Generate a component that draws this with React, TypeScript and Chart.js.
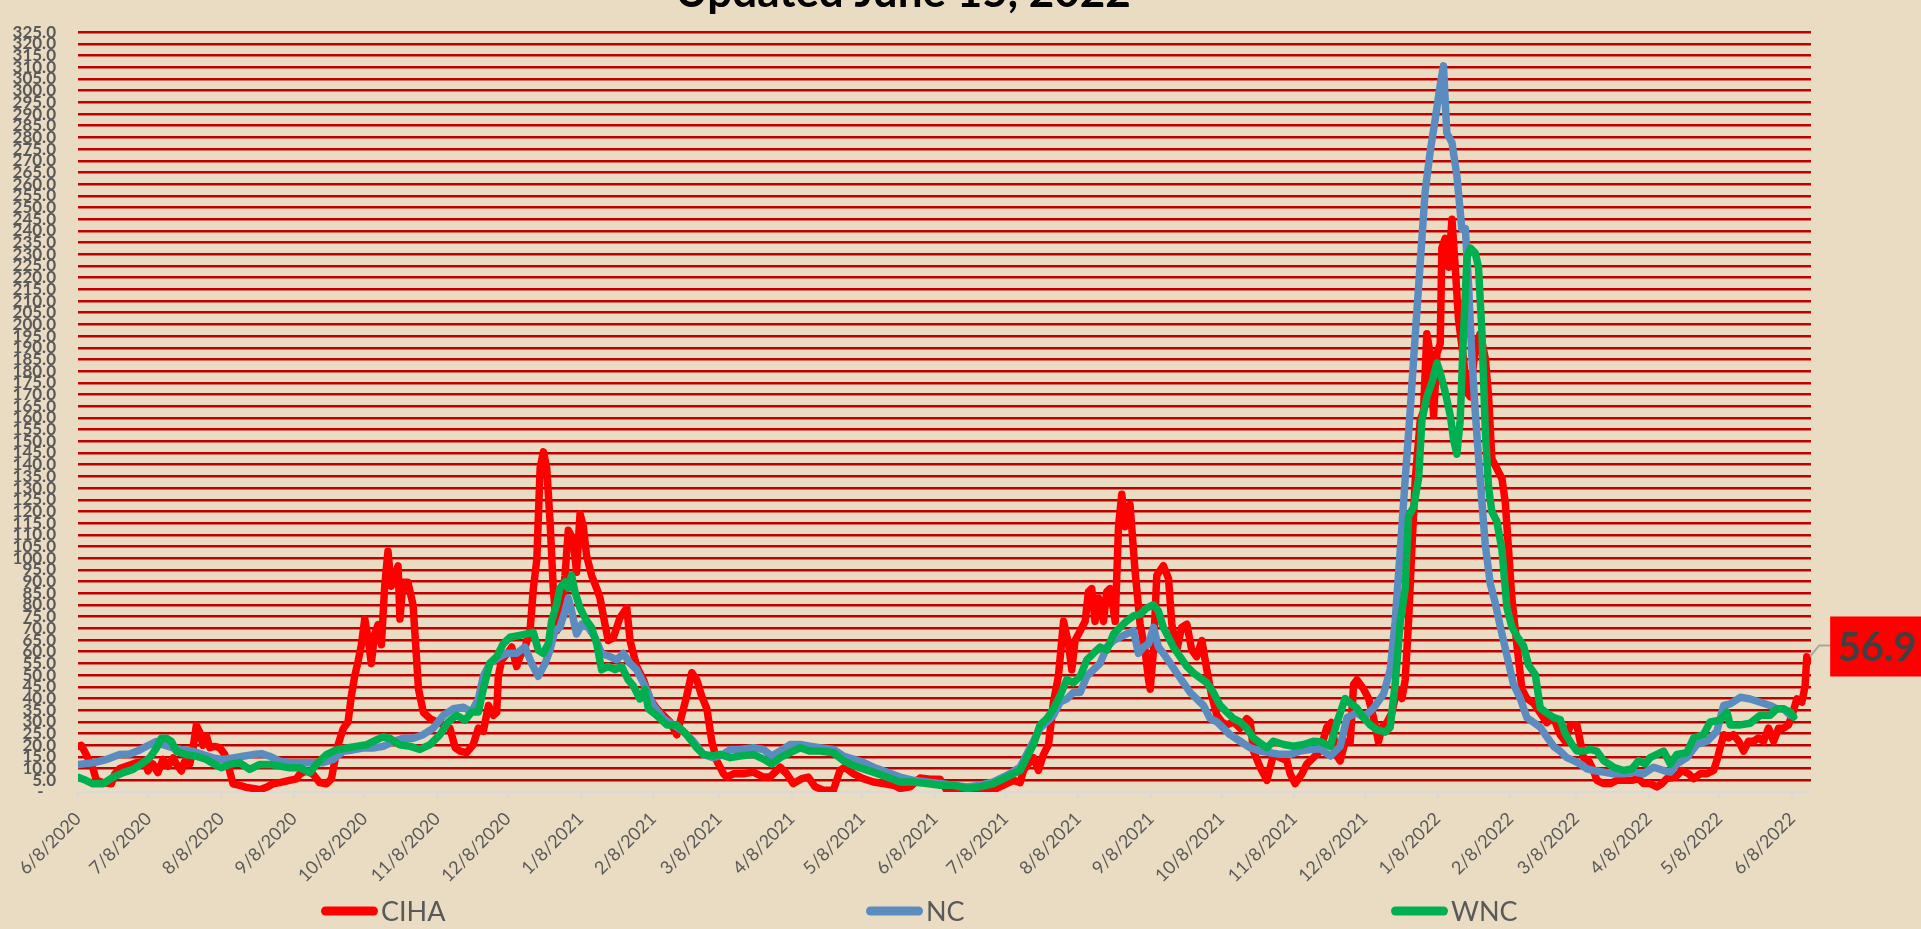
import React, { useEffect, useRef } from 'react';
import { Chart, registerables } from 'chart.js';

Chart.register(...registerables);

const titleText = 'Updated June 15, 2022';
const seriesNames = ['CIHA', 'NC', 'WNC'];
const startDate = '6/8/2020';
const xTickLabels = [
  '6/8/2020', '7/8/2020', '8/8/2020', '9/8/2020', '10/8/2020', '11/8/2020', '12/8/2020',
  '1/8/2021', '2/8/2021', '3/8/2021', '4/8/2021', '5/8/2021', '6/8/2021', '7/8/2021',
  '8/8/2021', '9/8/2021', '10/8/2021', '11/8/2021', '12/8/2021', '1/8/2022', '2/8/2022',
  '3/8/2022', '4/8/2022', '5/8/2022', '6/8/2022',
];
const xMaxDay = 738;
const yMax = 325;
const yStep = 5;

// days after 6/8/2020
const ciahDays = [
  0, 1.4, 3.5, 6.4, 7.8, 10.6, 14.2, 15.6, 17.7, 20.6, 24.8, 28.4, 29.8, 31.9, 34, 36.2, 38.3, 40.5, 41.9, 44,
  45.4, 47.6, 49, 50.4, 51.8, 53.2, 54.7, 56.1, 58.2, 60.3, 62.5, 64.6, 66, 68.9, 71.7, 75.2, 77.4, 80.2, 83, 85.9,
  90.1, 93, 94.4, 97.2, 100.1, 102.9, 105.8, 107.9, 109.3, 110.7, 112.9, 115, 116.4, 117.8, 119.3, 120.7, 122.1, 123.5, 124.9, 126.3,
  127.8, 129.2, 130.6, 132, 133.4, 134.9, 136.3, 137.1, 138.4, 140.5, 142.7, 143.5, 145, 147.1, 149.9, 152.8, 155.6, 158.4, 160.6, 162.7,
  165.5, 168.3, 170.5, 172.6, 174.8, 176.9, 178.3, 179, 180.4, 182.6, 184.7, 186.8, 188.2, 190.4, 192.5, 193.9, 195.4, 196.8, 198.2, 199.6,
  201, 202.4, 203.9, 205.3, 207.4, 208.8, 210.9, 212.3, 213.8, 215.2, 216.6, 218.7, 220.9, 222.3, 224.4, 225.8, 228, 230.8, 233.7, 235.1,
  237.9, 240.8, 243.6, 246.5, 249.3, 252.1, 255, 257.1, 259.2, 261.4, 263.5, 265.6, 267.8, 269.9, 272, 274.9, 276.2, 279.1, 283.3, 287.6,
  291.9, 294.7, 299, 301.8, 304.6, 308.2, 311, 313.9, 317.4, 321.7, 323.1, 324.5, 326.6, 330.2, 334.4, 338.7, 343, 347.2, 350.1, 354.3,
  358.6, 362.8, 367.1, 369.9, 372.8, 378.5, 387, 391.2, 395.5, 398.3, 401.2, 402.6, 404.7, 406.9, 409, 411.1, 413.3, 415.4, 417.5, 419.7,
  421.8, 423.2, 424.6, 426.8, 428.9, 430.3, 431.7, 433.1, 434.6, 436.7, 438.1, 439.5, 441.7, 443.1, 444.5, 445.9, 448, 450.2, 452.3, 454.4,
  455.9, 456.6, 458, 459.4, 462.2, 464.4, 465.8, 467.9, 470, 472.2, 474.3, 476.4, 478.6, 480.7, 482.8, 485, 487.1, 489.2, 492.1, 494.9,
  497.7, 499.2, 500.6, 503.4, 506.3, 509.1, 511.9, 514.8, 516.2, 518.3, 521.2, 523.3, 526.1, 529, 531.8, 533.7, 536.1, 537.5, 539.6, 541.8,
  543.2, 544.6, 547.5, 549.6, 551.7, 553.8, 555.3, 557.4, 559.5, 561.7, 563.8, 565.2, 566.6, 568, 569.5, 571.6, 573, 574.4, 575.8, 577.3,
  578.7, 580.1, 580.8, 582.2, 583.7, 585.1, 586.5, 587.9, 590, 591.5, 592.9, 594.3, 595.7, 597.1, 599.3, 600.7, 602.1, 604.2, 606.4, 607.8,
  609.2, 610.6, 612.8, 614.9, 617, 619.9, 622.7, 625.5, 628.4, 631.2, 633.3, 635.5, 638.3, 639.7, 641.1, 643.3, 645.4, 646.8, 649.7, 652.5,
  655.3, 658.9, 661.7, 664.6, 666.7, 669.5, 672.4, 674.5, 676.6, 680.2, 683, 685.9, 688, 690.8, 693.7, 696.5, 697.9, 699.3, 700.8, 702.9,
  705, 707.2, 709.3, 711.4, 713.5, 715.7, 717.8, 719.9, 722.1, 724.2, 726.3, 728.4, 729.9, 732, 734.1, 735.5, 736.2, 737,
];
const ciahValues = [
  19.5, 20, 16, 10, 5, 4, 3.5, 7.6, 10, 11, 12.5, 13, 9, 12, 8.3, 14, 11, 14.6, 12, 9,
  13, 12, 18.8, 28.5, 25.7, 20, 24, 19, 19.5, 19, 16, 9, 3.5, 2.8, 2, 1.4, 1, 2, 3.5, 4,
  5, 5.6, 7.6, 9, 7.6, 4, 3.5, 5.6, 13, 20, 27, 30, 41, 49.4, 56, 63, 74, 66, 55, 67.5,
  71.6, 63, 88, 103, 88, 92.5, 96.7, 74, 89.7, 89.7, 80, 67.6, 44, 34, 31.4, 30, 28.7, 27.3, 19, 17.5,
  16.8, 20.3, 27.3, 26, 37, 32.8, 34, 49.5, 56.5, 59, 62, 53.7, 57.9, 62, 69, 87, 99.6, 138.6, 145.5, 138.6,
  116, 87, 69, 73, 92.7, 112, 108, 94, 119, 113.5, 101, 92.7, 87, 83, 71.8, 64.8, 66, 74.6, 78.7, 64.8,
  53.7, 48, 39.8, 35.6, 32.8, 30, 24.5, 32.8, 41, 51, 48, 41, 35.6, 21.7, 13.4, 7.8, 6.4, 7.8, 7.8, 8.5,
  6.4, 6.4, 10.6, 7.8, 3.6, 5.7, 6.4, 2.2, 0.8, 0.8, 5, 9.2, 10.6, 7.8, 5.7, 4.3, 3.6, 2.9, 1.5, 2.2,
  6, 5.5, 5.5, 0.8, 0.1, 0, 0, 1.5, 3.6, 5, 4, 9.2, 12, 14.7, 9.2, 16, 20.3, 38.4, 49.5, 73,
  63.4, 52.3, 64.8, 69, 73, 85.7, 87, 73, 83, 73, 85.7, 87, 73, 113.5, 127.4, 113.5, 123, 94, 71.8, 60.7,
  48, 44, 60.7, 92.7, 96.8, 91.3, 71.8, 60.7, 70.4, 71.8, 60.7, 57.9, 64.8, 52.3, 41.2, 32.8, 30, 28.7, 30, 27.3,
  31.4, 30, 17.5, 10.6, 5, 16, 14.7, 13.4, 7.8, 3.6, 7.8, 12, 14.7, 17.5, 27.7, 29.7, 15.4, 13.3, 21.5, 21.5,
  46, 48, 44, 40, 31.8, 21.5, 27.7, 29.7, 33.8, 44, 40, 48, 72.8, 103.5, 134, 159, 163, 196, 187.6, 161,
  187.6, 191.7, 232.7, 236.8, 224.5, 245, 224.5, 202, 185.5, 171, 169, 183.5, 191.7, 196, 185.5, 169, 142.5, 138.4, 134, 124,
  103.5, 83, 62.5, 44, 40, 38, 33.8, 29.7, 31.8, 24.5, 21.7, 28.7, 28.7, 21.7, 14.7, 13.4, 9.2, 5, 3.6, 3.6,
  5, 5, 5, 5.7, 3.6, 3.6, 2.2, 3.6, 5.7, 6.4, 9.2, 7.8, 5.7, 7.8, 7.8, 9.2, 13.4, 18.9, 24.5, 23.1,
  24.5, 21.7, 17.5, 21.7, 21.7, 23.1, 21.7, 27.3, 21.7, 27.3, 27.3, 28.7, 32.8, 39.8, 38.4, 45.4, 57.9, 56.9,
];

const ncDays = [
  0, 6.4, 12.1, 17.7, 22, 26.3, 30.5, 33.4, 36.2, 40.5, 44.7, 49, 53.2, 57.5, 61.8, 66, 70.3, 74.5, 78.1, 81.6,
  85.9, 90.1, 94.4, 100.1, 104.3, 108.6, 112.9, 117.1, 121.4, 125.6, 129.9, 134.2, 138.4, 142.8, 147, 151.3, 155.6, 159.8, 164.1, 167.6,
  170.5, 172.6, 175.4, 179.7, 182.5, 186.8, 190.3, 193.2, 196, 198.9, 201, 203.1, 205.2, 207.4, 208.8, 210.2, 212.3, 214.5, 217.3, 220.1,
  223, 226.5, 229.4, 232.2, 235.1, 237.9, 241.4, 245, 249.3, 253.5, 257.8, 262, 266.3, 270.5, 274.8, 277.7, 281.9, 287.6, 291.9, 295.4,
  299, 303.2, 307.5, 311.7, 316, 321.7, 325.9, 330.2, 334.4, 338.7, 344.4, 350.1, 355.7, 361.4, 367.1, 372.8, 378.5, 384.1, 389.8, 395.5,
  401.2, 404, 406.9, 409.7, 412.6, 415.4, 418.2, 421.1, 423.9, 426.8, 429.6, 432.4, 435.3, 438.1, 441, 443.8, 446.6, 449.5, 451.6, 453.7,
  455.9, 458, 460.1, 462.2, 465.1, 467.9, 470.8, 473.6, 476.4, 479.3, 482.1, 485, 487.8, 490.6, 494.9, 499.2, 503.4, 507.7, 511.9, 516.2,
  520.4, 524.7, 529, 533.3, 537.5, 540.4, 544.6, 547.5, 551.7, 556, 558.8, 560.9, 563.1, 565.2, 567.3, 569.5, 571.6, 573.7, 575.8, 578,
  580.1, 581.5, 582.9, 585.1, 587.2, 589.3, 590.8, 592.2, 593.6, 595, 597.1, 599.3, 601.4, 603.5, 605.7, 608.5, 611.3, 614.2, 617, 619.9,
  622.7, 625.5, 628.4, 631.2, 634, 636.9, 639.7, 642.6, 645.4, 649.7, 653.9, 658.2, 662.4, 666.7, 671, 675.2, 678.1, 680.9, 685.1, 689.4,
  693.7, 697.9, 700.8, 703.6, 707.9, 712.1, 716.4, 720.6, 723.5, 726.3, 729.2,
];
const ncValues = [
  11.8, 12.5, 13.9, 16, 16.3, 18, 20.2, 21.6, 20.2, 18.8, 18, 17.4, 16, 14.6, 13.9, 14.6, 15.3, 16, 16.4, 15.3,
  13.2, 12.5, 12.5, 12.5, 12.5, 13.9, 17.4, 18, 18.8, 18.8, 19.5, 21.6, 23, 23, 24.5, 27.3, 32.8, 35.6, 36.3, 34.2,
  39.8, 49.5, 55, 57.9, 59.3, 59.3, 62, 55, 49.5, 55, 60.7, 69, 70.4, 77.4, 82.9, 77.4, 67.6, 71.8, 70.4, 66.2,
  59.3, 57.9, 56.5, 59.3, 55, 52.3, 45.4, 37, 31.4, 28.7, 25.9, 21.7, 16.1, 14.7, 16.1, 18.2, 18.2, 18.9, 18.2, 15.4,
  17.5, 20.3, 20.3, 19.6, 18.9, 18.2, 15.4, 14.1, 12.7, 10.6, 8.5, 6.4, 5, 4.3, 3.6, 2.9, 2.2, 2.9, 4.3, 7.1,
  10.6, 16.1, 21.7, 27.3, 30, 32.8, 38.4, 39.8, 42.6, 42.6, 49.5, 52.3, 55.1, 62, 64.8, 66.2, 67.6, 69, 59.3, 62,
  63.4, 70.4, 62, 59.3, 55.1, 50.9, 46.7, 42.6, 39.8, 37, 31.4, 30, 27.3, 24.5, 21.7, 18.9, 17.5, 16.8, 16.1, 16.1,
  17.5, 18.2, 18.5, 15.4, 19.5, 31.8, 33.8, 31.8, 35.9, 42, 52.3, 72.8, 103.5, 134, 163, 196, 226.5, 257, 273.7, 288,
  302.4, 310.6, 281.9, 277.8, 263.6, 241, 241, 216.3, 185.5, 163, 134, 105.6, 89.2, 81, 70.7, 58.4, 46.1, 40, 31.8, 29.7,
  27.7, 23.6, 19.5, 17.4, 14.7, 13.4, 12, 9.9, 9.2, 8.5, 7.8, 7.8, 8.5, 7.8, 10.6, 9.2, 8.5, 12, 14.7, 20.3,
  21.7, 25.9, 37, 37.7, 40.5, 39.8, 38.4, 37, 35.6, 35.6, 32.8,
];

const wncDays = [
  0, 3.5, 6.4, 10.6, 14.9, 19.2, 23.4, 27.7, 30.5, 33.4, 35.5, 37.6, 39.8, 41.9, 46.1, 50.4, 54.7, 58.2, 61, 64.6,
  68.9, 73.1, 77.4, 81.6, 85.9, 90.1, 94.4, 98.7, 101.5, 105.8, 110, 114.3, 118.5, 122.8, 127.1, 129.9, 132.7, 137, 141.3, 145.6,
  149.9, 154.1, 157.7, 161.2, 164.8, 167.6, 170.5, 172.6, 175.4, 178.3, 181.1, 184, 187.5, 191.1, 193.9, 196, 198.1, 200.3, 201.7, 203.8,
  205.2, 207.4, 208.8, 210.2, 211.6, 213.8, 216.6, 218.7, 220.9, 223, 225.8, 228.7, 231.5, 234.3, 236.5, 239.3, 241.4, 242.9, 246.4, 250.7,
  254.9, 259.2, 263.4, 266.3, 270.5, 273.4, 277.7, 281.9, 287.6, 291.9, 295.4, 299, 303.2, 307.5, 311.7, 316, 321.7, 325.9, 330.2, 334.4,
  338.7, 344.4, 350.1, 355.7, 361.4, 367.1, 372.8, 378.5, 384.1, 389.8, 395.5, 401.2, 404, 406.9, 409.7, 412.6, 415.4, 418.2, 421.1, 423.9,
  426.8, 429.6, 432.4, 435.3, 438.1, 441, 443.8, 446.6, 449.5, 452.3, 455.1, 458, 460.1, 462.2, 464.4, 466.5, 469.3, 472.2, 475, 477.9,
  480.7, 483.5, 486.4, 489.2, 492.1, 494.9, 497.7, 500.6, 503.4, 506.3, 509.1, 513.4, 517.6, 521.9, 526.1, 529, 533.3, 536.1, 539.6, 541.8,
  544.6, 547.5, 550.3, 553.1, 556.7, 558.8, 560.9, 563.1, 565.2, 566.6, 568.8, 570.9, 572.3, 574.4, 576.6, 578.7, 580.1, 582.2, 584.4, 585.8,
  587.2, 588.6, 590, 591.5, 592.9, 595, 596.4, 597.9, 599.3, 600.7, 602.1, 604.2, 606.4, 608.5, 610.6, 612.8, 615.6, 617.7, 620.6, 622.7,
  625.5, 628.4, 631.2, 633.3, 636.2, 638.3, 641.1, 644, 646.8, 649.7, 653.9, 658.2, 661.7, 664.6, 667.4, 669.5, 672.4, 675.2, 678.1, 680.9,
  685.1, 688, 692.2, 695.1, 699.3, 702.2, 703.6, 707.9, 712.1, 716.4, 720.6, 723.5, 726.3, 729.2, 730.6,
];
const wncValues = [
  6.3, 4.9, 3.5, 3.5, 6.3, 8.3, 9.7, 12.5, 14.6, 18.8, 23, 23, 21.6, 17.4, 16, 15.3, 13.9, 11.8, 10.4, 11.8,
  12.5, 9.7, 11.8, 11.8, 11.1, 10.4, 10.4, 8.3, 11.8, 16, 18, 18.8, 19.5, 20.2, 22.3, 23.6, 23, 20.2, 19.6, 18.2,
  20.3, 24.5, 30, 32.8, 30.7, 34.2, 34.2, 44, 55.1, 57.9, 63.4, 66.2, 66.9, 67.6, 68.3, 60.7, 59.3, 63.4, 73.2, 80.1,
  87.1, 89.9, 87.1, 92.7, 85.7, 78.7, 73.2, 70.4, 63.4, 52.3, 53.7, 52.3, 53.7, 48, 45.4, 39.8, 44, 35.6, 32.8, 28.7,
  28.7, 24.5, 19, 16.1, 15.4, 16.1, 14.7, 15.4, 16.1, 14.1, 12, 14.7, 16.8, 18.9, 17.5, 17.5, 16.8, 13.4, 11.3, 9.9,
  8.5, 6.4, 4.3, 4.3, 3.6, 2.9, 2.9, 1.5, 2.2, 3.6, 6.4, 9.2, 14.7, 20.3, 28.7, 31.4, 35.6, 41.2, 48.1, 46.7,
  49.5, 56.5, 59.3, 62, 60.7, 67.6, 70.4, 73.2, 75.3, 76, 78.7, 80.1, 77.4, 70.4, 66.2, 62, 57.9, 53.7, 50.9, 48.8,
  46.7, 42.6, 37, 34.2, 31.4, 30, 27.3, 23.1, 21, 18.9, 21.7, 20.3, 19.6, 20.3, 21.7, 21.5, 19.5, 29.7, 40, 38,
  35.9, 31.8, 28.7, 26.7, 25.6, 27.7, 46.1, 72.8, 87.1, 117.9, 122, 134.3, 158.9, 169.1, 175.3, 183.5, 179.4, 171.2, 160.9, 150.7,
  144.5, 158.9, 195.8, 228.6, 232.7, 230.6, 224.5, 195.8, 154.8, 130.2, 119.9, 115.8, 103.5, 78.9, 70.7, 66.6, 62.5, 54.3, 50.2, 35.9,
  33.8, 31.8, 31, 25, 20.3, 17.5, 17.5, 18.2, 17.5, 13.4, 10.6, 9.2, 9.9, 13.4, 12, 14.7, 16.1, 17.5, 12, 16.1,
  16.8, 23.1, 24.5, 30, 30.7, 34.2, 28.7, 28.7, 29.4, 32.8, 32.8, 35.6, 35.6, 34.2, 32.1,
];

const BG = '#EADCC3';
const GRID = '#C00000';
const AXIS = '#D9D9D9';
const TEXT = '#595959';
const RED = '#FF0000';
const BLUE = '#5B8CBF';
const GREEN = '#00B050';
const FONT = 'Lato, "Open Sans", sans-serif';

function dayOffset(s: string): number {
  const [m, d, y] = s.split('/').map(Number);
  const [m0, d0, y0] = startDate.split('/').map(Number);
  return Math.round((Date.UTC(y, m - 1, d) - Date.UTC(y0, m0 - 1, d0)) / 86400000);
}
const xTickDays = xTickLabels.map(dayOffset);

function toPoints(days: number[], vals: number[]) {
  return days.map((d, i) => ({ x: d, y: vals[i] }));
}

const decorPlugin = {
  id: 'decor',
  beforeDraw(chart: any) {
    const { ctx, width, height } = chart;
    ctx.save();
    ctx.fillStyle = BG;
    ctx.fillRect(0, 0, width, height);
    ctx.restore();
  },
  afterDraw(chart: any) {
    const ctx = chart.ctx;
    ctx.save();
    // title (top partly outside the picture)
    ctx.font = `bold 44px ${FONT}`;
    ctx.fillStyle = '#000000';
    ctx.textAlign = 'center';
    ctx.textBaseline = 'alphabetic';
    ctx.fillText(titleText, 903, 7);

    // legend
    const legendColors = [RED, BLUE, GREEN];
    const legendX = [321, 866, 1391];
    const ly = 911;
    ctx.font = `27px ${FONT}`;
    ctx.textAlign = 'left';
    ctx.textBaseline = 'middle';
    seriesNames.forEach((name, i) => {
      const x = legendX[i];
      ctx.strokeStyle = legendColors[i];
      ctx.lineWidth = 9;
      ctx.lineCap = 'round';
      ctx.beginPath();
      ctx.moveTo(x + 4.5, ly);
      ctx.lineTo(x + 52.5, ly);
      ctx.stroke();
      ctx.fillStyle = TEXT;
      ctx.fillText(name, x + 60, ly + 1);
    });

    // data label on last CIHA point
    const lastDay = ciahDays[ciahDays.length - 1];
    const lastVal = ciahValues[ciahValues.length - 1];
    const xs = chart.scales.x.getPixelForValue(lastDay);
    const ys = chart.scales.y.getPixelForValue(lastVal);
    ctx.strokeStyle = '#A6A6A6';
    ctx.lineWidth = 2;
    ctx.lineCap = 'butt';
    ctx.beginPath();
    ctx.moveTo(xs + 1.5, ys - 2.5);
    ctx.lineTo(xs + 10.5, ys - 13.5);
    ctx.lineTo(xs + 22, ys - 13.5);
    ctx.stroke();
    ctx.fillStyle = RED;
    ctx.fillRect(xs + 21.5, ys - 42.5, 140, 60);
    ctx.fillStyle = '#404040';
    ctx.font = `bold 40px ${FONT}`;
    ctx.textAlign = 'left';
    ctx.textBaseline = 'middle';
    ctx.fillText(lastVal.toFixed(1), xs + 29, ys - 11);
    ctx.restore();
  },
};

export default function App() {
  const canvasRef = useRef<HTMLCanvasElement | null>(null);

  useEffect(() => {
    const canvas = canvasRef.current;
    if (!canvas) return;
    const chart = new Chart(canvas, {
      type: 'line',
      data: {
        datasets: [
          {
            label: seriesNames[2],
            data: toPoints(wncDays, wncValues),
            borderColor: GREEN,
            backgroundColor: GREEN,
          },
          {
            label: seriesNames[1],
            data: toPoints(ncDays, ncValues),
            borderColor: BLUE,
            backgroundColor: BLUE,
          },
          {
            label: seriesNames[0],
            data: toPoints(ciahDays, ciahValues),
            borderColor: RED,
            backgroundColor: RED,
          },
        ],
      },
      options: {
        responsive: false,
        animation: false,
        devicePixelRatio: 1,
        elements: {
          point: { radius: 0, hoverRadius: 0 },
          line: {
            borderWidth: 7.5,
            tension: 0,
            borderJoinStyle: 'round',
            borderCapStyle: 'round',
            fill: false,
          },
        },
        layout: { padding: { left: 0, right: 110, top: 13, bottom: 0 } },
        plugins: {
          legend: { display: false },
          title: { display: false },
          tooltip: { enabled: false },
        },
        scales: {
          x: {
            type: 'linear',
            min: 0,
            max: xMaxDay,
            afterBuildTicks: (scale: any) => {
              scale.ticks = xTickDays.map((v) => ({ value: v }));
            },
            afterFit: (scale: any) => {
              scale.height = 137;
            },
            ticks: {
              autoSkip: false,
              minRotation: 45,
              maxRotation: 45,
              padding: 10,
              color: TEXT,
              font: { family: FONT, size: 18 },
              callback: (v: any) => {
                const idx = xTickDays.indexOf(Number(v));
                return idx >= 0 ? xTickLabels[idx] : '';
              },
            },
            grid: {
              drawOnChartArea: false,
              drawTicks: true,
              tickLength: 6,
              color: AXIS,
              lineWidth: 2,
            },
            border: { display: true, color: AXIS, width: 2 },
          },
          y: {
            type: 'linear',
            min: 0,
            max: yMax,
            afterFit: (scale: any) => {
              scale.width = 78;
            },
            ticks: {
              stepSize: yStep,
              autoSkip: false,
              padding: 22,
              color: TEXT,
              font: { family: FONT, size: 17, weight: 'bold' },
              callback: (v: any) => (Number(v) === 0 ? '-   ' : Number(v).toFixed(1)),
            },
            grid: {
              drawTicks: false,
              lineWidth: 2.5,
              color: (ctx: any) => (ctx.tick && ctx.tick.value === 0 ? 'rgba(0,0,0,0)' : GRID),
            },
            border: { display: false },
          },
        },
      },
      plugins: [decorPlugin],
    } as any);
    return () => chart.destroy();
  }, []);

  return (
    <div style={{ position: 'fixed', left: 0, top: 0, width: 1921, height: 929, background: BG }}>
      <canvas ref={canvasRef} width={1921} height={929} style={{ width: 1921, height: 929, display: 'block' }} />
    </div>
  );
}
